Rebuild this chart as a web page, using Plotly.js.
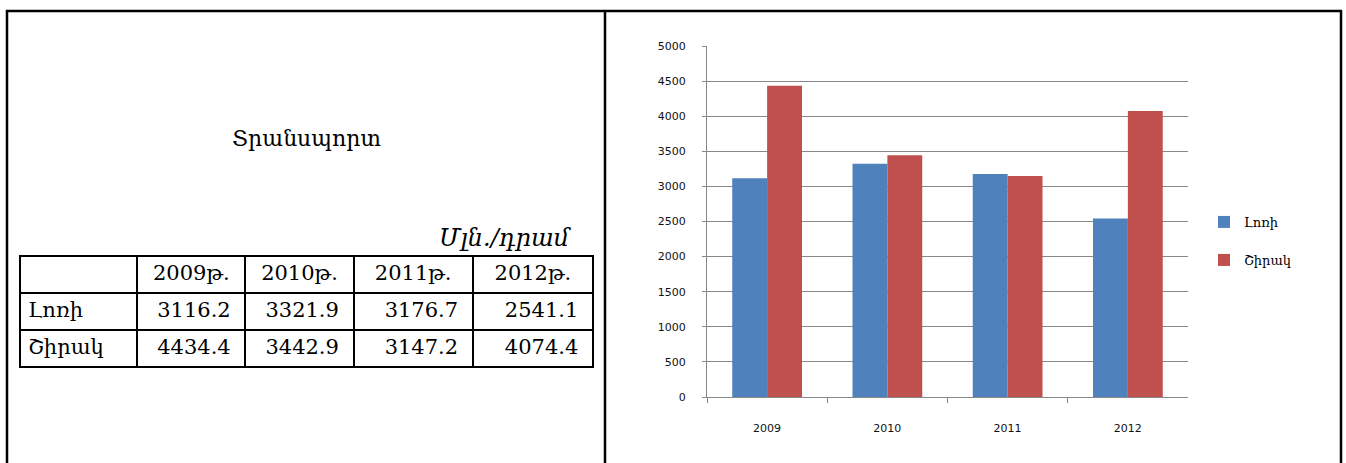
<!DOCTYPE html>
<html>
<head>
<meta charset="utf-8">
<script src="https://cdn.plot.ly/plotly-3.0.1.min.js"></script>
<style>
html,body{margin:0;padding:0;background:#fff;}
#chart{width:1346px;height:463px;}
</style>
</head>
<body>
<div id="chart"></div>
<script>
// ---- data ----
var years = ['2009', '2010', '2011', '2012'];
var yearHeaders = ['2009թ.', '2010թ.', '2011թ.', '2012թ.'];
var regions = ['Լոռի', 'Շիրակ'];
var lori = [3116.2, 3321.9, 3176.7, 2541.1];
var shirak = [4434.4, 3442.9, 3147.2, 4074.4];
var titleText = 'Տրանսպորտ';
var unitText = 'Մլն./դրամ';

// ---- geometry helpers ----
var W = 1346, H = 463;
function px(x) { return x / W; }
function py(y) { return 1 - y / H; }

var serif = 'DejaVu Serif, Liberation Serif, serif';
var blue = '#4F81BD', red = '#C0504D';

// table columns built from the arrays
var tableCols = [regions];
for (var i = 0; i < years.length; i++) {
  tableCols.push([lori[i].toFixed(1), shirak[i].toFixed(1)]);
}

var traces = [
  {
    type: 'table',
    domain: {x: [px(20), px(593)], y: [py(420), py(256)]},
    columnwidth: [117, 108, 108, 119, 120],
    header: {
      values: [''].concat(yearHeaders),
      align: 'center',
      height: 37,
      line: {color: '#000', width: 2},
      fill: {color: '#fff'},
      font: {family: serif, size: 21, color: '#000'}
    },
    cells: {
      values: tableCols,
      align: ['left', 'right', 'right', 'right', 'right'],
      suffix: ['', '\u00a0', '\u00a0', '\u00a0', '\u00a0'],
      height: 37,
      line: {color: '#000', width: 2},
      fill: {color: '#fff'},
      font: {family: serif, size: 21, color: '#000'}
    }
  },
  {
    type: 'bar', name: regions[0], x: years, y: lori,
    marker: {color: blue}, legend: 'legend', hoverinfo: 'y'
  },
  {
    type: 'bar', name: regions[1], x: years, y: shirak,
    marker: {color: red}, legend: 'legend2', hoverinfo: 'y'
  }
];

function border(x0, y0, x1, y1) {
  return {type: 'line', xref: 'paper', yref: 'paper',
    x0: px(x0), y0: py(y0), x1: px(x1), y1: py(y1),
    line: {color: '#000', width: 2.5}};
}

var tickFont = {family: 'DejaVu Sans, sans-serif', size: 11, color: '#111'};

var layout = {
  width: W, height: H,
  margin: {l: 0, r: 0, t: 0, b: 0},
  paper_bgcolor: '#fff', plot_bgcolor: '#fff',
  barmode: 'group', bargap: 0.42, bargroupgap: 0,
  xaxis: {
    domain: [px(707), px(1188)],
    type: 'category',
    showline: true, linecolor: '#888', linewidth: 1,
    ticks: 'outside', tickson: 'boundaries', ticklen: 5, tickcolor: '#888',
    ticklabelstandoff: 21,
    tickfont: tickFont,
    showgrid: false, zeroline: false, fixedrange: true
  },
  yaxis: {
    domain: [py(397), py(46)],
    range: [0, 5000], dtick: 500, tick0: 0,
    showline: true, linecolor: '#888', linewidth: 1,
    ticks: 'outside', ticklen: 4, tickcolor: '#888',
    ticklabelstandoff: 14,
    showgrid: true, gridcolor: '#888', gridwidth: 1,
    zeroline: false,
    tickfont: tickFont,
    fixedrange: true
  },
  showlegend: true,
  legend: {
    x: px(1204), y: py(222), xanchor: 'left', yanchor: 'middle',
    font: {family: serif, size: 13, color: '#000'},
    bgcolor: 'rgba(0,0,0,0)', itemwidth: 30
  },
  legend2: {
    x: px(1204), y: py(260), xanchor: 'left', yanchor: 'middle',
    font: {family: serif, size: 13, color: '#000'},
    bgcolor: 'rgba(0,0,0,0)', itemwidth: 30
  },
  shapes: [
    border(6, 11, 1342, 11),
    border(7, 10, 7, 463),
    border(1341, 10, 1341, 463),
    border(605, 10, 605, 463)
  ],
  annotations: [
    {text: titleText, xref: 'paper', yref: 'paper', x: px(306), y: py(138),
     xanchor: 'center', yanchor: 'middle', showarrow: false,
     font: {family: serif, size: 22, color: '#000'}},
    {text: '<i>' + unitText + '</i>', xref: 'paper', yref: 'paper', x: px(574), y: py(238),
     xanchor: 'right', yanchor: 'middle', showarrow: false,
     font: {family: serif, size: 24, color: '#000'}}
  ]
};

Plotly.newPlot('chart', traces, layout, {displayModeBar: false, staticPlot: true});
</script>
</body>
</html>
